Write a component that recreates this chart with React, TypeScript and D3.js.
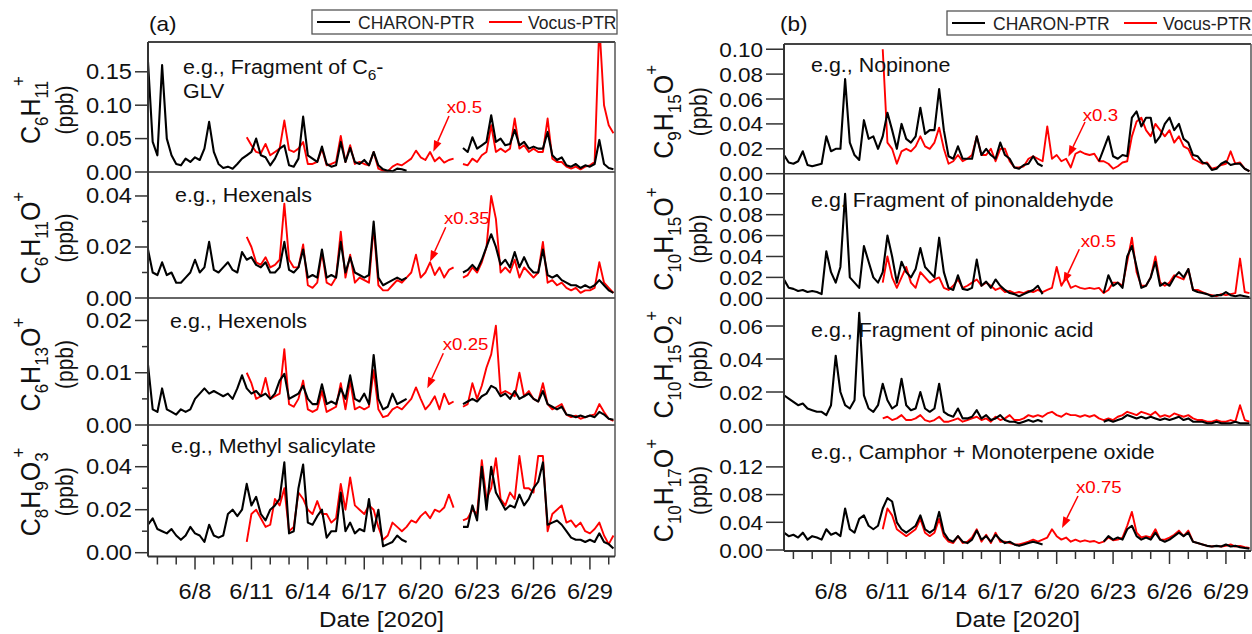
import React, { useEffect, useRef } from "react";
import * as d3 from "d3";

// one sample every 6 h, starting 5 June 2020 12:00 (100 samples per series)
const sampleStart = new Date(2020, 5, 5, 12);
const sampleStepHours = 6;
const dateDomain = [new Date(2020, 5, 5, 12), new Date(2020, 5, 30, 8)];
const majorTickDays = [8, 11, 14, 17, 20, 23, 26, 29];

const legendNames = ["CHARON-PTR", "Vocus-PTR"];

// (a) C6H11+
const c6h11Charon = [
  0.165, 0.045, 0.025, 0.16, 0.05, 0.025, 0.012, 0.01, 0.02, 0.015,
  0.022, 0.018, 0.035, 0.075, 0.03, 0.012, 0.006, 0.008, 0.005, 0.012,
  0.02, 0.025, 0.03, 0.05, 0.025, 0.022, 0.01, 0.02, 0.035, 0.04,
  0.01, 0.008, 0.02, 0.083, 0.025, 0.02, 0.015, 0.038, 0.012, 0.008,
  0.01, 0.045, 0.015, 0.036, 0.015, 0.012, 0.018, 0.01, 0.03, 0.01,
  0.004, 0.002, 0.001, 0.005, 0.004, 0.002, null, null, null, null,
  null, null, null, null, null, null, null, 0.036, 0.03, 0.052,
  0.035, 0.04, 0.045, 0.085, 0.045, 0.05, 0.04, 0.042, 0.063, 0.04,
  0.045, 0.035, 0.038, 0.035, 0.035, 0.06, 0.025, 0.018, 0.022, 0.01,
  0.008, 0.012, 0.006, 0.01, 0.008, 0.012, 0.048, 0.012, 0.006, 0.004,
];
const c6h11Vocus = [
  null, null, null, null, null, null, null, null, null, null,
  null, null, null, null, null, null, null, null, null, null,
  null, 0.052, 0.04, 0.03, 0.028, 0.042, 0.025, 0.03, 0.035, 0.077,
  0.033, 0.03, 0.035, 0.045, 0.012, 0.012, 0.015, 0.035, 0.01, 0.012,
  0.015, 0.054, 0.015, 0.04, 0.012, 0.015, 0.012, 0.01, 0.03, 0.005,
  0.002, 0.001, 0.008, 0.012, 0.01, 0.015, 0.02, 0.032, 0.022, 0.018,
  0.03, 0.016, 0.022, 0.014, 0.018, 0.02, null, 0.012, 0.01, 0.02,
  0.015, 0.025, 0.03, 0.07, 0.03, 0.035, 0.03, 0.035, 0.08, 0.035,
  0.04, 0.03, 0.035, 0.03, 0.03, 0.08, 0.02, 0.015, 0.015, 0.008,
  0.005, 0.008, 0.004, 0.008, 0.01, 0.015, 0.22, 0.1, 0.07, 0.058,
];

// (a) C6H11O+
const c6h11oCharon = [
  0.019, 0.01, 0.009, 0.014, 0.009, 0.01, 0.006, 0.006, 0.008, 0.01,
  0.015, 0.01, 0.012, 0.022, 0.011, 0.01, 0.012, 0.014, 0.011, 0.01,
  0.018, 0.015, 0.016, 0.013, 0.012, 0.014, 0.01, 0.01, 0.012, 0.022,
  0.011, 0.01, 0.012, 0.019, 0.008, 0.009, 0.008, 0.019, 0.008, 0.009,
  0.008, 0.022, 0.01, 0.016, 0.01, 0.009, 0.008, 0.009, 0.03, 0.008,
  0.005, 0.006, 0.007, 0.008, 0.007, 0.008, null, null, null, null,
  null, null, null, null, null, null, null, 0.01, 0.011, 0.013,
  0.011, 0.015, 0.02, 0.025, 0.02, 0.013, 0.015, 0.012, 0.018, 0.012,
  0.016, 0.012, 0.01, 0.01, 0.019, 0.009, 0.008, 0.009, 0.007, 0.006,
  0.005, 0.005, 0.004, 0.005, 0.004, 0.005, 0.007, 0.005, 0.003, 0.002,
];
const c6h11oVocus = [
  null, null, null, null, null, null, null, null, null, null,
  null, null, null, null, null, null, null, null, null, null,
  null, 0.024, 0.02, 0.014, 0.013, 0.016, 0.012, 0.013, 0.015, 0.037,
  0.015, 0.012, 0.012, 0.021, 0.005, 0.004, 0.006, 0.018, 0.006, 0.005,
  0.008, 0.026, 0.008, 0.017, 0.006, 0.008, 0.007, 0.006, 0.028, 0.005,
  0.003, 0.003, 0.005, 0.007, 0.006, 0.008, 0.01, 0.017, 0.008, 0.01,
  0.014, 0.009, 0.012, 0.008, 0.011, 0.012, null, 0.008, 0.009, 0.012,
  0.01, 0.014, 0.02, 0.04, 0.031, 0.01, 0.012, 0.01, 0.015, 0.008,
  0.012, 0.01, 0.008, 0.01, 0.022, 0.006, 0.007, 0.005, 0.006, 0.004,
  0.003, 0.004, 0.002, 0.003, 0.003, 0.004, 0.014, 0.006, 0.004, 0.002,
];

// (a) C6H13O+
const c6h13oCharon = [
  0.0115, 0.003, 0.0025, 0.007, 0.003, 0.0025, 0.002, 0.003, 0.0025, 0.003,
  0.005, 0.006, 0.007, 0.006, 0.0065, 0.006, 0.0055, 0.006, 0.005, 0.007,
  0.0095, 0.007, 0.006, 0.0065, 0.0055, 0.006, 0.005, 0.006, 0.0085, 0.0098,
  0.005, 0.0055, 0.006, 0.0075, 0.005, 0.004, 0.004, 0.0078, 0.004, 0.0045,
  0.004, 0.007, 0.005, 0.0095, 0.005, 0.0045, 0.006, 0.004, 0.0134, 0.005,
  0.003, 0.0035, 0.006, 0.004, 0.0045, 0.005, null, null, null, null,
  null, null, null, null, null, null, null, 0.004, 0.0045, 0.005,
  0.0045, 0.0055, 0.006, 0.0075, 0.007, 0.0055, 0.006, 0.005, 0.0065, 0.005,
  0.0055, 0.006, 0.005, 0.0045, 0.0065, 0.004, 0.0035, 0.003, 0.0035, 0.002,
  0.0018, 0.0015, 0.0018, 0.0015, 0.0018, 0.0015, 0.0025, 0.002, 0.0012, 0.001,
];
const c6h13oVocus = [
  null, null, null, null, null, null, null, null, null, null,
  null, null, null, null, null, null, null, null, null, null,
  null, 0.01, 0.008, 0.005, 0.0055, 0.009, 0.005, 0.0055, 0.006, 0.0145,
  0.004, 0.0035, 0.005, 0.0085, 0.003, 0.0025, 0.003, 0.0065, 0.0025, 0.003,
  0.0035, 0.008, 0.003, 0.0085, 0.003, 0.0035, 0.003, 0.0035, 0.0105, 0.003,
  0.0015, 0.0018, 0.003, 0.0035, 0.003, 0.004, 0.005, 0.0072, 0.005, 0.003,
  0.004, 0.0055, 0.003, 0.006, 0.004, 0.0045, null, 0.0035, 0.004, 0.008,
  0.005, 0.0075, 0.011, 0.0135, 0.019, 0.006, 0.0065, 0.006, 0.0055, 0.01,
  0.0055, 0.0065, 0.005, 0.0045, 0.008, 0.004, 0.003, 0.0035, 0.004, 0.002,
  0.0015, 0.0018, 0.0012, 0.0015, 0.0018, 0.002, 0.004, 0.0025, 0.0012, 0.0008,
];

// (a) C8H9O3+
const c8h9o3Charon = [
  0.013, 0.016, 0.011, 0.01, 0.009, 0.011, 0.008, 0.006, 0.008, 0.012,
  0.009, 0.008, 0.005, 0.013, 0.008, 0.007, 0.008, 0.018, 0.02, 0.017,
  0.02, 0.032, 0.022, 0.026, 0.018, 0.015, 0.02, 0.022, 0.025, 0.042,
  0.009, 0.01, 0.03, 0.041, 0.014, 0.013, 0.017, 0.02, 0.007, 0.01,
  0.01, 0.028, 0.01, 0.014, 0.009, 0.011, 0.01, 0.025, 0.01, 0.02,
  0.003, 0.004, 0.005, 0.008, 0.006, 0.005, null, null, null, null,
  null, null, null, null, null, null, null, 0.012, 0.012, 0.022,
  0.015, 0.04, 0.02, 0.04, 0.028, 0.024, 0.02, 0.022, 0.021, 0.027,
  0.022, 0.025, 0.03, 0.033, 0.042, 0.013, 0.014, 0.015, 0.013, 0.01,
  0.007, 0.006, 0.006, 0.005, 0.006, 0.005, 0.009, 0.005, 0.004, 0.002,
];
const c8h9o3Vocus = [
  null, null, null, null, null, null, null, null, null, null,
  null, null, null, null, null, null, null, null, null, null,
  null, 0.005, 0.018, 0.02, 0.016, 0.012, 0.013, 0.025, 0.022, 0.03,
  0.01, 0.012, 0.028, 0.025, 0.02, 0.018, 0.024, 0.018, 0.018, 0.014,
  0.016, 0.032, 0.02, 0.035, 0.022, 0.02, 0.018, 0.022, 0.02, 0.012,
  0.006, 0.008, 0.014, 0.012, 0.01, 0.012, 0.015, 0.014, 0.017, 0.019,
  0.016, 0.02, 0.019, 0.021, 0.027, 0.021, null, 0.015, 0.016, 0.02,
  0.018, 0.043, 0.025, 0.03, 0.044, 0.025, 0.022, 0.028, 0.025, 0.045,
  0.03, 0.03, 0.028, 0.045, 0.045, 0.01, 0.018, 0.02, 0.022, 0.014,
  0.015, 0.012, 0.014, 0.01, 0.009, 0.011, 0.014, 0.008, 0.004, 0.008,
];

// (b) C9H15O+
const c9h15oCharon = [
  0.015, 0.009, 0.008, 0.01, 0.018, 0.007, 0.006, 0.007, 0.008, 0.03,
  0.018, 0.02, 0.02, 0.076, 0.025, 0.015, 0.011, 0.043, 0.028, 0.03,
  0.02, 0.03, 0.049, 0.035, 0.02, 0.04, 0.028, 0.025, 0.03, 0.053,
  0.032, 0.035, 0.035, 0.068, 0.035, 0.014, 0.012, 0.022, 0.012, 0.012,
  0.012, 0.03, 0.015, 0.02, 0.015, 0.012, 0.025, 0.015, 0.012, 0.005,
  0.004, 0.007, 0.008, 0.014, 0.008, 0.006, null, null, null, null,
  null, null, null, null, null, null, null, 0.01, 0.02, 0.03,
  0.014, 0.012, 0.015, 0.014, 0.045, 0.05, 0.038, 0.045, 0.045, 0.025,
  0.03, 0.04, 0.045, 0.035, 0.04, 0.028, 0.025, 0.015, 0.014, 0.009,
  0.008, 0.003, 0.004, 0.008, 0.01, 0.007, 0.008, 0.008, 0.004, 0.002,
];
const c9h15oVocus = [
  null, null, null, null, null, null, null, null, null, null,
  null, null, null, null, null, null, null, null, null, null,
  null, 0.1, 0.025, 0.02, 0.008, 0.018, 0.02, 0.018, 0.022, 0.03,
  0.022, 0.02, 0.025, 0.037, 0.02, 0.008, 0.01, 0.015, 0.01, 0.012,
  0.015, 0.03, 0.015, 0.015, 0.02, 0.01, 0.02, 0.02, 0.01, 0.005,
  0.005, 0.006, 0.012, 0.014, 0.012, 0.01, 0.038, 0.012, 0.015, 0.01,
  0.012, 0.005, 0.016, 0.018, 0.016, 0.015, 0.016, 0.01, 0.01, 0.008,
  0.004, 0.006, 0.009, 0.01, 0.03, 0.042, 0.045, 0.035, 0.03, 0.04,
  0.035, 0.03, 0.035, 0.025, 0.03, 0.022, 0.02, 0.012, 0.01, 0.008,
  0.009, 0.004, 0.005, 0.007, 0.008, 0.018, 0.008, 0.009, 0.004, 0.002,
];

// (b) C10H15O+
const c10h15oCharon = [
  0.018, 0.01, 0.009, 0.007, 0.008, 0.006, 0.007, 0.006, 0.004, 0.045,
  0.025, 0.015, 0.03, 0.1, 0.02, 0.015, 0.01, 0.05, 0.035, 0.02,
  0.015, 0.025, 0.06, 0.04, 0.015, 0.035, 0.025, 0.02, 0.028, 0.048,
  0.03, 0.025, 0.02, 0.058, 0.025, 0.01, 0.008, 0.022, 0.009, 0.008,
  0.01, 0.037, 0.012, 0.016, 0.01, 0.018, 0.012, 0.008, 0.005, 0.004,
  0.002, 0.004, 0.006, 0.008, 0.012, 0.004, null, null, null, null,
  null, null, null, null, null, null, null, null, 0.005, 0.022,
  0.012, 0.015, 0.01, 0.04, 0.05, 0.03, 0.01, 0.012, 0.02, 0.035,
  0.012, 0.015, 0.012, 0.02, 0.025, 0.02, 0.028, 0.008, 0.006, 0.005,
  0.004, 0.002, 0.003, 0.003, 0.006, 0.003, 0.002, 0.003, 0.002, 0.001,
];
const c10h15oVocus = [
  null, null, null, null, null, null, null, null, null, null,
  null, null, null, null, null, null, null, null, null, null,
  null, 0.015, 0.04, 0.02, 0.01, 0.02, 0.03, 0.015, 0.01, 0.025,
  0.02, 0.015, 0.018, 0.02, 0.01, 0.008, 0.012, 0.018, 0.01, 0.012,
  0.015, 0.018, 0.012, 0.015, 0.012, 0.008, 0.01, 0.006, 0.007, 0.005,
  0.006, 0.005, 0.007, 0.006, 0.008, 0.006, 0.008, 0.01, 0.03, 0.012,
  0.02, 0.01, 0.012, 0.01, 0.009, 0.01, 0.009, 0.01, 0.005, 0.008,
  0.015, 0.015, 0.012, 0.035, 0.058, 0.025, 0.012, 0.012, 0.02, 0.04,
  0.015, 0.012, 0.015, 0.022, 0.02, 0.018, 0.028, 0.008, 0.008, 0.006,
  0.004, 0.003, 0.002, 0.004, 0.003, 0.004, 0.005, 0.038, 0.006, 0.005,
];

// (b) C10H15O2+
const c10h15o2Charon = [
  0.018, 0.016, 0.014, 0.012, 0.013, 0.01, 0.009, 0.008, 0.008, 0.006,
  0.012, 0.042, 0.02, 0.012, 0.01, 0.015, 0.068, 0.018, 0.01, 0.008,
  0.012, 0.025, 0.015, 0.01, 0.012, 0.028, 0.012, 0.009, 0.01, 0.02,
  0.01, 0.008, 0.01, 0.025, 0.008, 0.006, 0.005, 0.01, 0.004, 0.004,
  0.005, 0.009, 0.004, 0.006, 0.003, 0.004, 0.006, 0.003, 0.002, 0.002,
  0.001, 0.002, 0.003, 0.002, 0.003, 0.002, null, null, null, null,
  null, null, null, null, null, null, null, null, 0.002, 0.003,
  0.002, 0.003, 0.004, 0.006, 0.005, 0.004, 0.005, 0.004, 0.005, 0.004,
  0.003, 0.004, 0.003, 0.004, 0.005, 0.003, 0.004, 0.002, 0.002, 0.002,
  0.001, 0.001, 0.002, 0.001, 0.001, 0.001, 0.002, 0.001, 0.001, 0.001,
];
const c10h15o2Vocus = [
  null, null, null, null, null, null, null, null, null, null,
  null, null, null, null, null, null, null, null, null, null,
  null, 0.004, 0.005, 0.003, 0.004, 0.006, 0.003, 0.003, 0.004, 0.006,
  0.003, 0.002, 0.003, 0.005, 0.002, 0.002, 0.003, 0.004, 0.002, 0.003,
  0.004, 0.005, 0.003, 0.004, 0.002, 0.005, 0.003, 0.004, 0.006, 0.003,
  0.003, 0.004, 0.006, 0.005, 0.006, 0.005, 0.007, 0.008, 0.006, 0.005,
  0.007, 0.006, 0.006, 0.005, 0.006, 0.005, 0.006, 0.004, 0.003, 0.004,
  0.003, 0.005, 0.006, 0.008, 0.007, 0.006, 0.008, 0.007, 0.006, 0.008,
  0.005, 0.006, 0.005, 0.007, 0.006, 0.005, 0.006, 0.004, 0.003, 0.003,
  0.002, 0.002, 0.003, 0.002, 0.002, 0.003, 0.002, 0.012, 0.003, 0.002,
];

// (b) C10H17O+
const c10h17oCharon = [
  0.025, 0.02, 0.022, 0.018, 0.025, 0.015, 0.02, 0.018, 0.015, 0.03,
  0.022, 0.025, 0.02, 0.06, 0.03, 0.025, 0.045, 0.05, 0.035, 0.03,
  0.035, 0.06, 0.075, 0.07, 0.04, 0.03, 0.025, 0.03, 0.035, 0.05,
  0.03, 0.025, 0.03, 0.055, 0.025, 0.015, 0.012, 0.02, 0.012, 0.01,
  0.015, 0.028, 0.015, 0.02, 0.012, 0.022, 0.015, 0.01, 0.012, 0.008,
  0.006, 0.008, 0.01, 0.012, 0.01, 0.008, null, null, null, null,
  null, null, null, null, null, null, null, null, 0.012, 0.02,
  0.015, 0.018, 0.015, 0.03, 0.035, 0.02, 0.015, 0.018, 0.015, 0.025,
  0.015, 0.012, 0.015, 0.02, 0.025, 0.02, 0.025, 0.012, 0.01, 0.008,
  0.006, 0.005, 0.006, 0.005, 0.008, 0.005, 0.006, 0.004, 0.003, 0.002,
];
const c10h17oVocus = [
  null, null, null, null, null, null, null, null, null, null,
  null, null, null, null, null, null, null, null, null, null,
  null, 0.03, 0.06, 0.05, 0.03, 0.025, 0.02, 0.025, 0.03, 0.045,
  0.025, 0.02, 0.025, 0.045, 0.02, 0.012, 0.01, 0.02, 0.01, 0.012,
  0.018, 0.03, 0.012, 0.022, 0.01, 0.025, 0.012, 0.012, 0.01, 0.008,
  0.008, 0.01, 0.012, 0.015, 0.012, 0.015, 0.018, 0.03, 0.02, 0.015,
  0.018, 0.012, 0.015, 0.012, 0.014, 0.012, 0.013, 0.01, 0.012, 0.018,
  0.014, 0.015, 0.018, 0.035, 0.055, 0.025, 0.018, 0.02, 0.018, 0.03,
  0.015, 0.015, 0.018, 0.022, 0.028, 0.02, 0.028, 0.012, 0.01, 0.008,
  0.006, 0.005, 0.006, 0.005, 0.006, 0.008, 0.005, 0.006, 0.004, 0.003,
];

// y-axis tick values per subplot
const ticksA = [[0, 0.05, 0.1, 0.15], [0, 0.02, 0.04], [0, 0.01, 0.02], [0, 0.02, 0.04]];
const minorA = [[], [0.01, 0.03], [0.005, 0.015], [0.01, 0.03, 0.05]];
const ticksB = [[0, 0.02, 0.04, 0.06, 0.08, 0.1], [0, 0.02, 0.04, 0.06, 0.08, 0.1], [0, 0.02, 0.04, 0.06], [0, 0.04, 0.08, 0.12]];
const minorB = [[], [], [], []];

const W = 1252;
const H = 634;
const FONT = "'Liberation Sans', Arial, Helvetica, sans-serif";
const SX = 1.1; // the source figure is slightly wide-stretched

type Part = [string, "" | "sub" | "sup"];

const panels = [
  {
    tag: "(a)", tagX: 149, left: 148, right: 615, frameTop: 42, axisY: 556.5, tickLen: 13, tickFont: 21.5,
    formulaX: 40, ppbX: 73,
    legend: { x: 312, y: 10, w: 305 },
    rows: [
      { top: 42, zero: 172, yMax: 0.1946, ticks: ticksA[0], minor: minorA[0], black: c6h11Charon, red: c6h11Vocus,
        formula: [["C", ""], ["6", "sub"], ["H", ""], ["11", "sub"], ["+", "sup"]] as Part[],
        note: [[["e.g., Fragment of C", ""], ["6", "sub"], ["-", ""]], [["GLV", ""]]] as Part[][], noteX: 183, noteY: 74,
        factor: "x0.5", fx: 446.7, fy: 113, arrow: [449, 116, 433.3, 151.7] },
      { top: 172, zero: 298, yMax: 0.0494, ticks: ticksA[1], minor: minorA[1], black: c6h11oCharon, red: c6h11oVocus,
        formula: [["C", ""], ["6", "sub"], ["H", ""], ["11", "sub"], ["O", ""], ["+", "sup"]] as Part[],
        note: [[["e.g., Hexenals", ""]]] as Part[][], noteX: 175, noteY: 201.5,
        factor: "x0.35", fx: 444, fy: 224, arrow: [445.7, 227.3, 430, 261.7] },
      { top: 298, zero: 425, yMax: 0.0243, ticks: ticksA[2], minor: minorA[2], black: c6h13oCharon, red: c6h13oVocus,
        formula: [["C", ""], ["6", "sub"], ["H", ""], ["13", "sub"], ["O", ""], ["+", "sup"]] as Part[],
        note: [[["e.g., Hexenols", ""]]] as Part[][], noteX: 170, noteY: 328,
        factor: "x0.25", fx: 442.7, fy: 350, arrow: [443.3, 353.3, 427.3, 388.3] },
      { top: 425, zero: 552.7, yMax: 0.0594, ticks: ticksA[3], minor: minorA[3], black: c8h9o3Charon, red: c8h9o3Vocus,
        formula: [["C", ""], ["8", "sub"], ["H", ""], ["9", "sub"], ["O", ""], ["3", "sub"], ["+", "sup"]] as Part[],
        note: [[["e.g., Methyl salicylate", ""]]] as Part[][], noteX: 171, noteY: 453,
        factor: null, fx: 0, fy: 0, arrow: null },
    ],
  },
  {
    tag: "(b)", tagX: 780, left: 784, right: 1251, frameTop: 44, axisY: 551, tickLen: 18, tickFont: 20.5,
    formulaX: 673, ppbX: 707,
    legend: { x: 947, y: 11, w: 312 },
    rows: [
      { top: 44, zero: 173.7, yMax: 0.1042, ticks: ticksB[0], minor: minorB[0], black: c9h15oCharon, red: c9h15oVocus,
        formula: [["C", ""], ["9", "sub"], ["H", ""], ["15", "sub"], ["O", ""], ["+", "sup"]] as Part[],
        note: [[["e.g., Nopinone", ""]]] as Part[][], noteX: 811, noteY: 72,
        factor: "x0.3", fx: 1082.7, fy: 120.7, arrow: [1085, 122, 1068.3, 156.7] },
      { top: 173.7, zero: 298.3, yMax: 0.1192, ticks: ticksB[1], minor: minorB[1], black: c10h15oCharon, red: c10h15oVocus,
        formula: [["C", ""], ["10", "sub"], ["H", ""], ["15", "sub"], ["O", ""], ["+", "sup"]] as Part[],
        note: [[["e.g. Fragment of pinonaldehyde", ""]]] as Part[][], noteX: 811, noteY: 207,
        factor: "x0.5", fx: 1080.7, fy: 247.3, arrow: [1079.3, 249.3, 1063.3, 283.3] },
      { top: 298.3, zero: 425, yMax: 0.0768, ticks: ticksB[2], minor: minorB[2], black: c10h15o2Charon, red: c10h15o2Vocus,
        formula: [["C", ""], ["10", "sub"], ["H", ""], ["15", "sub"], ["O", ""], ["2", "sub"], ["+", "sup"]] as Part[],
        note: [[["e.g., Fragment of pinonic acid", ""]]] as Part[][], noteX: 811, noteY: 337,
        factor: null, fx: 0, fy: 0, arrow: null },
      { top: 425, zero: 550, yMax: 0.1805, ticks: ticksB[3], minor: minorB[3], black: c10h17oCharon, red: c10h17oVocus,
        formula: [["C", ""], ["10", "sub"], ["H", ""], ["17", "sub"], ["O", ""], ["+", "sup"]] as Part[],
        note: [[["e.g., Camphor + Monoterpene oxide", ""]]] as Part[][], noteX: 811, noteY: 459,
        factor: "x0.75", fx: 1076, fy: 493, arrow: [1078, 496, 1062, 528] },
    ],
  },
];

const addParts = (text: any, parts: Part[], size: number, subSize: number) => {
  let shift = 0;
  let prev = "";
  parts.forEach(([s, kind]) => {
    const target = kind === "sub" ? 0.3 * size : kind === "sup" ? -0.55 * size : 0;
    const t = text.append("tspan").attr("dy", target - shift).text(s);
    if (kind) t.attr("font-size", subSize);
    if (kind === "sup" && prev === "sub") t.attr("dx", -5);
    shift = target;
    prev = kind;
  });
};

const App = () => {
  const ref = useRef<SVGSVGElement>(null);

  useEffect(() => {
    if (!ref.current) return;
    const svg = d3.select(ref.current);
    svg.selectAll("*").remove();
    svg.append("rect").attr("width", W).attr("height", H).attr("fill", "#fff");

    const times = d3.range(c6h11Charon.length).map((i) => d3.timeHour.offset(sampleStart, i * sampleStepHours));
    const fmtDate = d3.timeFormat("%-m/%-d");
    const fmtY = d3.format(".2f");
    const axisColor = "#333";

    panels.forEach((p, pi) => {
      const x = d3.scaleTime().domain(dateDomain).range([p.left, p.right]);
      const g = svg.append("g");

      p.rows.forEach((r, ri) => {
        const y = d3.scaleLinear().domain([0, r.yMax]).range([r.zero, r.top]);
        const clipId = `clip-${pi}-${ri}`;
        svg.append("clipPath").attr("id", clipId).append("rect")
          .attr("x", p.left).attr("y", r.top).attr("width", p.right - p.left).attr("height", r.zero - r.top + 2);

        const line = d3.line<number | null>()
          .defined((v) => v != null)
          .x((_, i) => x(times[i]))
          .y((v) => y(v as number));

        const lines = g.append("g").attr("clip-path", `url(#${clipId})`);
        lines.append("path").datum(r.red).attr("d", line as any)
          .attr("fill", "none").attr("stroke", "#ff0000").attr("stroke-width", 1.9).attr("stroke-linejoin", "round");
        lines.append("path").datum(r.black).attr("d", line as any)
          .attr("fill", "none").attr("stroke", "#000").attr("stroke-width", 2.1).attr("stroke-linejoin", "round");

        // y ticks
        r.ticks.forEach((v) => {
          g.append("line").attr("x1", p.left - p.tickLen).attr("x2", p.left)
            .attr("y1", y(v)).attr("y2", y(v)).attr("stroke", axisColor).attr("stroke-width", 1.5);
          g.append("g").attr("transform", `translate(${p.left - p.tickLen - 3},${y(v) + 7.5}) scale(${SX},1)`)
            .append("text").attr("text-anchor", "end").attr("font-size", p.tickFont).attr("fill", "#111")
            .attr("font-family", FONT).text(fmtY(v));
        });
        r.minor.forEach((v) => {
          g.append("line").attr("x1", p.left - 6).attr("x2", p.left)
            .attr("y1", y(v)).attr("y2", y(v)).attr("stroke", axisColor).attr("stroke-width", 1.5);
        });

        // separator between subplots
        if (ri < p.rows.length - 1) {
          g.append("line").attr("x1", p.left).attr("x2", p.right).attr("y1", r.zero).attr("y2", r.zero)
            .attr("stroke", axisColor).attr("stroke-width", 1.5);
        }

        // y label
        const cy = (r.top + r.zero) / 2 + 3;
        const ft = g.append("g").attr("transform", `translate(${p.formulaX},${cy}) scale(${SX},1) rotate(-90)`)
          .append("text").attr("text-anchor", "middle").attr("font-size", 25).attr("font-family", FONT).attr("fill", "#111");
        addParts(ft, r.formula, 25, 17);
        g.append("g").attr("transform", `translate(${p.ppbX},${cy}) scale(${SX},1) rotate(-90)`)
          .append("text").attr("text-anchor", "middle").attr("font-size", 21).attr("font-family", FONT)
          .attr("fill", "#111").text("(ppb)");

        // annotation
        r.note.forEach((ln, li) => {
          const nt = g.append("g").attr("transform", `translate(${r.noteX},${r.noteY + li * 24}) scale(${SX},1)`)
            .append("text").attr("font-size", 19.5).attr("font-family", FONT).attr("fill", "#111");
          addParts(nt, ln, 19.5, 14);
        });

        if (r.factor && r.arrow) {
          g.append("g").attr("transform", `translate(${r.fx},${r.fy}) scale(${SX},1)`)
            .append("text").attr("font-size", 17).attr("font-family", FONT).attr("fill", "#ff0000").text(r.factor);
          const [x1, y1, x2, y2] = r.arrow;
          const ang = Math.atan2(y2 - y1, x2 - x1);
          const hl = 11, hw = 4;
          const bx = x2 - hl * Math.cos(ang), by = y2 - hl * Math.sin(ang);
          g.append("line").attr("x1", x1).attr("y1", y1).attr("x2", bx).attr("y2", by)
            .attr("stroke", "#ff0000").attr("stroke-width", 1.5);
          g.append("path")
            .attr("d", `M${x2},${y2}L${bx - hw * Math.sin(ang)},${by + hw * Math.cos(ang)}L${bx + hw * Math.sin(ang)},${by - hw * Math.cos(ang)}Z`)
            .attr("fill", "#ff0000");
        }
      });

      // frame
      g.append("line").attr("x1", p.left).attr("x2", p.right).attr("y1", p.frameTop).attr("y2", p.frameTop)
        .attr("stroke", "#444").attr("stroke-width", 2);
      g.append("line").attr("x1", p.left).attr("x2", p.left).attr("y1", p.frameTop).attr("y2", p.axisY)
        .attr("stroke", axisColor).attr("stroke-width", 2);
      g.append("line").attr("x1", p.right).attr("x2", p.right).attr("y1", p.frameTop).attr("y2", p.axisY)
        .attr("stroke", "#555").attr("stroke-width", 1.5);
      g.append("line").attr("x1", p.left).attr("x2", p.right).attr("y1", p.axisY).attr("y2", p.axisY)
        .attr("stroke", axisColor).attr("stroke-width", 2);

      // x axis ticks
      const days = d3.timeDay.range(d3.timeDay.ceil(dateDomain[0]), dateDomain[1]);
      days.forEach((d) => {
        const major = majorTickDays.includes(d.getDate());
        g.append("line").attr("x1", x(d)).attr("x2", x(d)).attr("y1", p.axisY).attr("y2", p.axisY + (major ? 13 : 8))
          .attr("stroke", axisColor).attr("stroke-width", 1.5);
        if (major) {
          g.append("g").attr("transform", `translate(${x(d)},599) scale(${SX},1)`)
            .append("text").attr("text-anchor", "middle").attr("font-size", 21.5).attr("font-family", FONT)
            .attr("fill", "#111").text(fmtDate(d));
        }
      });
      g.append("g").attr("transform", `translate(${(p.left + p.right) / 2},627) scale(${SX},1)`)
        .append("text").attr("text-anchor", "middle").attr("font-size", 22).attr("font-family", FONT)
        .attr("fill", "#111").text("Date [2020]");

      // panel tag
      g.append("g").attr("transform", `translate(${p.tagX},31) scale(${SX},1)`)
        .append("text").attr("font-size", 20.5).attr("font-family", FONT).attr("fill", "#111").text(p.tag);

      // legend
      const L = p.legend;
      g.append("rect").attr("x", L.x).attr("y", L.y).attr("width", L.w).attr("height", 24)
        .attr("fill", "#fff").attr("stroke", "#555").attr("stroke-width", 1.3);
      [["#000", 0], ["#ff0000", 1]].forEach(([c, k]: any) => {
        const lx = L.x + 5 + k * 172;
        g.append("line").attr("x1", lx).attr("x2", lx + 33).attr("y1", L.y + 12).attr("y2", L.y + 12)
          .attr("stroke", c).attr("stroke-width", 1.8);
        g.append("text").attr("x", lx + 41 - k * 2).attr("y", L.y + 18.5).attr("font-size", 17.5)
          .attr("font-family", FONT).attr("fill", "#222").text(legendNames[k]);
      });
    });
  }, []);

  return (
    <div style={{ position: "absolute", left: 0, top: 0 }}>
      <svg ref={ref} width={W} height={H} style={{ display: "block" }} />
    </div>
  );
};

export default App;
